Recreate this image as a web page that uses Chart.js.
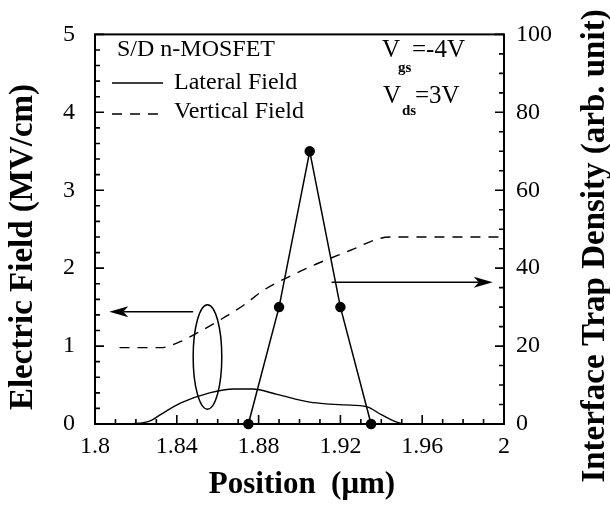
<!DOCTYPE html>
<html>
<head>
<meta charset="utf-8">
<script src="https://cdn.jsdelivr.net/npm/chart.js@4.4.1/dist/chart.umd.min.js"></script>
<style>
  html, body { margin: 0; padding: 0; background: #fff; }
  #wrap { width: 610px; height: 507px; }
</style>
</head>
<body>
<div id="wrap"><canvas id="fieldChart"></canvas></div>
<script>
// lateral field, solid line (MV/cm)
const lateralPos   = [1.815, 1.822, 1.827, 1.832, 1.842, 1.856, 1.868, 1.877, 1.889, 1.905, 1.915, 1.922, 1.933, 1.940, 1.948, 1.952, 1.968];
const lateralField = [0, 0.01, 0.04, 0.12, 0.27, 0.40, 0.45, 0.45, 0.38, 0.28, 0.255, 0.245, 0.22, 0.12, 0.02, 0, 0];

// vertical field, dashed line (MV/cm)
const verticalPos   = [1.812, 1.832, 1.842, 1.848, 1.864, 1.873, 1.882, 1.894, 1.908, 1.925, 1.939, 1.945, 2.0];
const verticalField = [0.98, 0.98, 1.06, 1.14, 1.38, 1.53, 1.71, 1.88, 2.05, 2.23, 2.38, 2.40, 2.40];

// interface trap density, dots (arb. unit, right axis)
const trapPos     = [1.875, 1.89, 1.905, 1.92, 1.935];
const trapDensity = [0, 30, 70, 30, 0];

const serif = "'Liberation Serif', 'Times New Roman', serif";
Chart.defaults.font.family = serif;
Chart.defaults.color = '#000';

const toXY = (xs, ys) => xs.map((x, i) => ({ x: x, y: ys[i] }));
const isMajor = (v, step) => Math.abs(v / step - Math.round(v / step)) < 1e-6;

function arrowHead(ctx, tipX, y, dir) {
  ctx.beginPath();
  ctx.moveTo(tipX, y);
  ctx.lineTo(tipX - dir * 19, y - 5.5);
  ctx.lineTo(tipX - dir * 14, y);
  ctx.lineTo(tipX - dir * 19, y + 5.5);
  ctx.closePath();
  ctx.fill();
}

const decorations = {
  id: 'decorations',
  beforeDatasetsDraw(chart) {
    const { ctx, chartArea: a, scales } = chart;
    ctx.save();
    ctx.strokeStyle = '#000';
    ctx.lineWidth = 2;
    ctx.strokeRect(a.left, a.top, a.right - a.left, a.bottom - a.top);

    // inward tick marks
    ctx.lineWidth = 1.6;
    ctx.beginPath();
    scales.x.ticks.forEach(t => {
      const px = scales.x.getPixelForValue(t.value);
      const len = isMajor(t.value, 0.04) ? 9 : 5;
      ctx.moveTo(px, a.bottom); ctx.lineTo(px, a.bottom - len);
    });
    scales.y.ticks.forEach(t => {
      const py = scales.y.getPixelForValue(t.value);
      const len = isMajor(t.value, 1) ? 9 : 5;
      ctx.moveTo(a.left, py); ctx.lineTo(a.left + len, py);
    });
    scales.y2.ticks.forEach(t => {
      const py = scales.y2.getPixelForValue(t.value);
      const len = isMajor(t.value, 20) ? 9 : 5;
      ctx.moveTo(a.right, py); ctx.lineTo(a.right - len, py);
    });
    ctx.stroke();
    ctx.restore();
  },
  afterDraw(chart) {
    const { ctx, scales } = chart;
    const x = scales.x, y = scales.y, y2 = scales.y2;
    ctx.save();
    ctx.strokeStyle = '#000';
    ctx.fillStyle = '#000';

    // ellipse round the field curves
    const cx = x.getPixelForValue(1.855), cy = y.getPixelForValue(0.86);
    const rx = x.getPixelForValue(1.862) - cx, ry = cy - y.getPixelForValue(1.53);
    ctx.lineWidth = 1.5;
    ctx.beginPath();
    ctx.ellipse(cx, cy, rx, ry, 0, 0, Math.PI * 2);
    ctx.stroke();

    // arrow to left axis
    const ly = y.getPixelForValue(1.44);
    const lx0 = x.getPixelForValue(1.848), lx1 = x.getPixelForValue(1.807);
    ctx.beginPath(); ctx.moveTo(lx0, ly); ctx.lineTo(lx1 + 14, ly); ctx.stroke();
    arrowHead(ctx, lx1, ly, -1);

    // arrow to right axis
    const ry2 = y2.getPixelForValue(36.4);
    const rx0 = x.getPixelForValue(1.9157), rx1 = x.getPixelForValue(1.9945);
    ctx.beginPath(); ctx.moveTo(rx0, ry2); ctx.lineTo(rx1 - 14, ry2); ctx.stroke();
    arrowHead(ctx, rx1, ry2, 1);

    // legend
    ctx.font = '24px ' + serif;
    ctx.textBaseline = 'middle';
    ctx.textAlign = 'left';
    ctx.fillText('S/D n-MOSFET', 117, 50);
    ctx.fillText('Lateral Field', 174, 83);
    ctx.fillText('Vertical Field', 174, 112);
    ctx.lineWidth = 1.3;
    ctx.beginPath(); ctx.moveTo(112, 83); ctx.lineTo(163, 83); ctx.stroke();
    ctx.setLineDash([10, 8]);
    ctx.beginPath(); ctx.moveTo(112, 114); ctx.lineTo(163, 114); ctx.stroke();
    ctx.setLineDash([]);

    // bias conditions
    ctx.font = '25px ' + serif;
    ctx.fillText('V', 382, 50);
    ctx.fillText('=-4V', 412, 50);
    ctx.fillText('V', 383, 96);
    ctx.fillText('=3V', 415, 96);
    ctx.font = 'bold 15px ' + serif;
    ctx.fillText('gs', 398, 68);
    ctx.fillText('ds', 402, 111);

    // axis titles
    ctx.font = 'bold 31px ' + serif;
    ctx.textAlign = 'center';
    ctx.textBaseline = 'alphabetic';
    ctx.fillText('Position  (\u03bcm)', 302, 493);

    ctx.font = 'bold 33px ' + serif;
    ctx.save();
    ctx.translate(32, 247);
    ctx.rotate(-Math.PI / 2);
    ctx.fillText('Electric Field (MV/cm)', 0, 0);
    ctx.restore();

    ctx.save();
    ctx.translate(604, 246);
    ctx.rotate(-Math.PI / 2);
    ctx.fillText('Interface Trap Density (arb. unit)', 0, 0);
    ctx.restore();

    ctx.restore();
  }
};

new Chart(document.getElementById('fieldChart'), {
  type: 'line',
  data: {
    datasets: [
      {
        label: 'Lateral Field',
        data: toXY(lateralPos, lateralField),
        yAxisID: 'y',
        borderColor: '#000',
        borderWidth: 1.4,
        pointRadius: 0,
        cubicInterpolationMode: 'monotone',
        fill: false
      },
      {
        label: 'Vertical Field',
        data: toXY(verticalPos, verticalField),
        yAxisID: 'y',
        borderColor: '#000',
        borderWidth: 1.4,
        borderDash: [10, 8],
        pointRadius: 0,
        cubicInterpolationMode: 'monotone',
        fill: false
      },
      {
        label: 'Interface Trap Density',
        data: toXY(trapPos, trapDensity),
        yAxisID: 'y2',
        borderColor: '#000',
        backgroundColor: '#000',
        borderWidth: 1.5,
        pointRadius: 4.5,
        pointHoverRadius: 4.5,
        tension: 0,
        clip: false,
        fill: false
      }
    ]
  },
  options: {
    responsive: true,
    maintainAspectRatio: false,
    animation: false,
    devicePixelRatio: 1,
    layout: { padding: { top: 18, left: 0, right: 0, bottom: 0 } },
    plugins: { legend: { display: false }, tooltip: { enabled: false } },
    scales: {
      x: {
        type: 'linear',
        min: 1.8,
        max: 2.0,
        grid: { display: false, drawTicks: false, tickLength: 0 },
        border: { display: false },
        ticks: {
          stepSize: 0.01,
          autoSkip: false,
          maxRotation: 0,
          padding: 8,
          font: { size: 24 },
          callback: v => isMajor(v, 0.04) ? String(Number(v.toFixed(2))) : ''
        },
        afterFit: s => { s.height = 83; }
      },
      y: {
        position: 'left',
        min: 0,
        max: 5,
        grid: { display: false, drawTicks: false, tickLength: 0 },
        border: { display: false },
        ticks: {
          stepSize: 0.2,
          autoSkip: false,
          padding: 20,
          font: { size: 24 },
          callback: v => isMajor(v, 1) ? String(Math.round(v)) : ''
        },
        afterFit: s => { s.width = 95; }
      },
      y2: {
        position: 'right',
        min: 0,
        max: 100,
        grid: { display: false, drawTicks: false, tickLength: 0 },
        border: { display: false },
        ticks: {
          stepSize: 5,
          autoSkip: false,
          padding: 12,
          font: { size: 24 },
          callback: v => isMajor(v, 20) ? String(Math.round(v)) : ''
        },
        afterFit: s => { s.width = 106; }
      }
    }
  },
  plugins: [decorations]
});
</script>
</body>
</html>
